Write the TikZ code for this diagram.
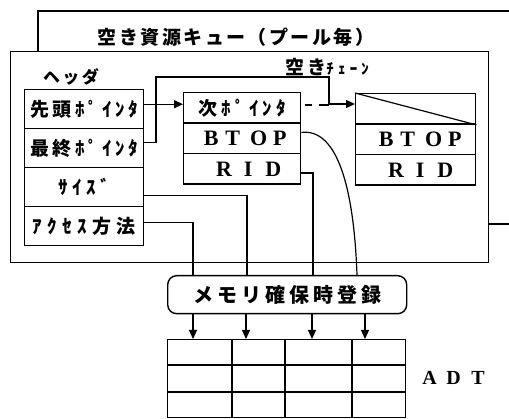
\documentclass[tikz,border=0pt]{standalone}
\usepackage{fontspec}
\usetikzlibrary{arrows.meta,calc}
\newfontfamily\jp{Noto Sans CJK JP}
\newfontfamily\lat{Liberation Serif}
\newcommand\jt[3]{{\jp\bfseries\fontsize{#1}{#1}\selectfont\addfontfeatures{LetterSpace=#2}#3}}
\newcommand\lt[2]{{\lat\bfseries\fontsize{#1}{#1}\selectfont #2}}
\begin{document}
\begin{tikzpicture}[x=1pt,y=-1pt,line width=1.2pt,
  frame/.style={draw,line width=1.2pt},
  hbox/.style={draw,line width=1.4pt,minimum width=119pt,minimum height=39pt,anchor=north west,inner sep=0pt},
  cbox/.style={draw,line width=1.4pt,minimum width=117pt,minimum height=30.5pt,anchor=north west,inner sep=0pt},
  rbox/.style={draw,line width=1.4pt,minimum width=120pt,minimum height=30.5pt,anchor=north west,inner sep=0pt},
  conn/.style={line width=1.2pt},
  arr/.style={line width=1.2pt,-{Triangle[length=9pt,width=8pt]}}]
\useasboundingbox (0,0) rectangle (509,419);
% back frame
\draw[frame] (509,11) -- (38,11) -- (38,51);
\draw[frame] (488,224) -- (509,224);
% front frame
\node[frame,fill=white,anchor=north west,minimum width=478pt,minimum height=211pt,inner sep=0pt] (front) at (10,51) {};
\node (title) at (236,37) {\jt{19}{13}{空き資源キュー（プール毎）}};
\node (hdr) at (71,77) {\jt{17}{14}{ヘッダ}};
\node[anchor=base west] (chain) at (282,75) {\jt{19}{13}{空き}\jt{15}{28}{ﾁｪｰﾝ}};
% header
\node[hbox] (h1) at (24,89) {\jt{19}{20}{先頭ﾎﾟｲﾝﾀ}};
\node[hbox] (h2) at (24,128) {\jt{19}{20}{最終ﾎﾟｲﾝﾀ}};
\node[hbox] (h3) at (24,167) {\jt{19}{25}{ｻｲｽﾞ}};
\node[hbox] (h4) at (24,206) {\jt{19}{28}{ｱｸｾｽ方法}};
% middle chain element
\node[cbox] (m1) at (183,92) {\jt{19}{23}{次ﾎﾟｲﾝﾀ}};
\node[cbox] (m2) at (183,122.5) {\hspace*{6pt}\lt{22}{B\kern7pt T\kern10pt O\kern6pt P}};
\node[cbox] (m3) at (183,153) {\hspace*{13pt}\lt{22}{R\kern12pt I\kern13pt D}};
% right chain element
\node[rbox] (r1) at (355,93) {};
\node[rbox] (r2) at (355,123.5) {\hspace*{9pt}\lt{22}{B\kern7pt T\kern10pt O\kern6pt P}};
\node[rbox] (r3) at (355,154) {\hspace*{10pt}\lt{22}{R\kern12pt I\kern13pt D}};
\draw[line width=1.2pt] (r1.north west) -- (r1.south east);
% memory registration
\node[draw,line width=1.4pt,rounded corners=9pt,minimum width=239pt,minimum height=38pt,anchor=north west,inner sep=0pt] (mem) at (167,275) {\jt{20}{20}{メモリ確保時登録}};
% ADT table
\node[draw,line width=1.4pt,anchor=north west,minimum width=238pt,minimum height=78pt,inner sep=0pt] (adt) at (167,339) {};
\foreach \dx in {65,118,185} \draw[line width=1.4pt] ($(adt.north west)+(\dx,0)$) -- ($(adt.south west)+(\dx,0)$);
\foreach \dy in {26,53} \draw[line width=1.4pt] ($(adt.north west)+(0,\dy)$) -- ($(adt.north east)+(0,\dy)$);
\node (adtl) at (453.5,378) {\lt{20}{A\kern9.5pt D\kern10.5pt T}};
% connectors
\coordinate (a1) at ([yshift=5pt]h1.east);
\draw[arr] (a1) -- (a1 -| m1.west);
\coordinate (a2) at ([yshift=6pt]h2.east);
\coordinate (k1) at (156,77);
\coordinate (k2) at (329,104);
\draw[conn] (a2) -| (k1) -| (k2);
\coordinate (d1) at ([yshift=3pt]m1.east);
\draw[conn,dash pattern=on 0pt off 4pt on 7pt off 7pt on 40pt] (d1) -- (d1 -| k2);
\draw[arr] (k2) -- (k2 -| r1.west);
\coordinate (b2) at ([yshift=6pt]m2.east);
\draw[conn] (b2) .. controls (338,128) and (354,190) .. ($(mem.north west)+(190,0)$);
\coordinate (b3) at ([yshift=-4pt]m3.east);
\draw[conn] (b3) -| ($(mem.north west)+(146,0)$);
\coordinate (a3) at ([yshift=-8.5pt]h3.east);
\draw[conn] (a3) -| ($(mem.north west)+(80,0)$);
\coordinate (a4) at ([yshift=3.5pt]h4.east);
\draw[conn] (a4) -| ($(mem.north west)+(26,0)$);
\foreach \dx in {26,79,145,198} \draw[arr] ($(mem.south west)+(\dx,0)$) -- ($(adt.north west)+(\dx,0)$);
\end{tikzpicture}
\end{document}
